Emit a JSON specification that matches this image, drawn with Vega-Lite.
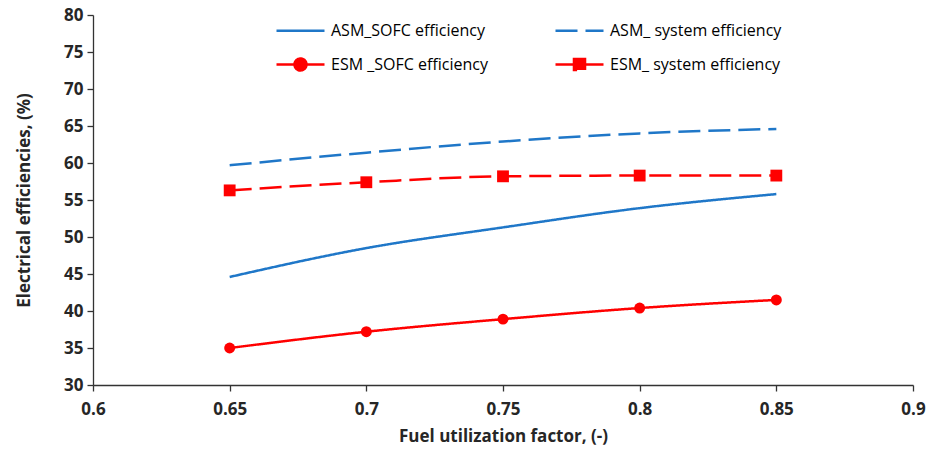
{
  "$schema": "https://vega.github.io/schema/vega-lite/v6.json",
  "width": 820,
  "height": 370,
  "autosize": {"type": "none"},
  "padding": {"left": 93, "top": 15, "right": 16, "bottom": 71},
  "background": "white",
  "config": {
    "view": {"stroke": null},
    "font": "Open Sans",
    "axis": {
      "grid": false,
      "domainColor": "#333333",
      "domainWidth": 1.3,
      "tickColor": "#333333",
      "tickWidth": 1.3,
      "tickSize": 6,
      "labelFont": "Open Sans",
      "labelFontWeight": "bold",
      "labelFontSize": 17,
      "labelColor": "#262626",
      "titleFont": "Open Sans",
      "titleFontWeight": "bold",
      "titleFontSize": 17,
      "titleColor": "#262626"
    }
  },
  "data": {
    "values": [
      {"x": 0.65, "series": "ASM_SOFC efficiency", "value": 44.6},
      {"x": 0.70, "series": "ASM_SOFC efficiency", "value": 48.5},
      {"x": 0.75, "series": "ASM_SOFC efficiency", "value": 51.3},
      {"x": 0.80, "series": "ASM_SOFC efficiency", "value": 53.9},
      {"x": 0.85, "series": "ASM_SOFC efficiency", "value": 55.8},
      {"x": 0.65, "series": "ASM_ system efficiency", "value": 59.7},
      {"x": 0.70, "series": "ASM_ system efficiency", "value": 61.4},
      {"x": 0.75, "series": "ASM_ system efficiency", "value": 62.9},
      {"x": 0.80, "series": "ASM_ system efficiency", "value": 64.0},
      {"x": 0.85, "series": "ASM_ system efficiency", "value": 64.6},
      {"x": 0.65, "series": "ESM _SOFC efficiency", "value": 35.0},
      {"x": 0.70, "series": "ESM _SOFC efficiency", "value": 37.2},
      {"x": 0.75, "series": "ESM _SOFC efficiency", "value": 38.9},
      {"x": 0.80, "series": "ESM _SOFC efficiency", "value": 40.4},
      {"x": 0.85, "series": "ESM _SOFC efficiency", "value": 41.5},
      {"x": 0.65, "series": "ESM_ system efficiency", "value": 56.3},
      {"x": 0.70, "series": "ESM_ system efficiency", "value": 57.4},
      {"x": 0.75, "series": "ESM_ system efficiency", "value": 58.2},
      {"x": 0.80, "series": "ESM_ system efficiency", "value": 58.3},
      {"x": 0.85, "series": "ESM_ system efficiency", "value": 58.3}
    ]
  },
  "encoding": {
    "x": {
      "field": "x",
      "type": "quantitative",
      "scale": {"domain": [0.6, 0.9], "nice": false, "zero": false},
      "axis": {
        "title": "Fuel utilization factor, (-)",
        "values": [0.6, 0.65, 0.7, 0.75, 0.8, 0.85, 0.9],
        "labelExpr": "datum.value",
        "labelPadding": 10,
        "titlePadding": 11,
        "labelFlush": false
      }
    },
    "y": {
      "field": "value",
      "type": "quantitative",
      "scale": {"domain": [30, 80], "nice": false, "zero": false},
      "axis": {
        "title": "Electrical efficiencies, (%)",
        "values": [30, 35, 40, 45, 50, 55, 60, 65, 70, 75, 80],
        "labelPadding": 4,
        "titlePadding": 30
      }
    }
  },
  "layer": [
    {
      "mark": {"type": "line", "strokeWidth": 2.5, "interpolate": "monotone"},
      "encoding": {
        "color": {
          "field": "series",
          "type": "nominal",
          "scale": {
            "domain": ["ASM_SOFC efficiency", "ESM _SOFC efficiency", "ASM_ system efficiency", "ESM_ system efficiency"],
            "range": ["#1F77C8", "#FF0000", "#1F77C8", "#FF0000"]
          },
          "legend": {
            "title": null,
            "orient": "none",
            "legendX": 182,
            "legendY": -10,
            "columns": 2,
            "columnPadding": 62,
            "rowPadding": -7,
            "symbolSize": 2304,
            "symbolStrokeWidth": 2.5,
            "labelFont": "Open Sans",
            "labelFontSize": 16,
            "labelLimit": 400,
            "labelColor": "#000000",
            "labelOffset": 5,
            "symbolType": "stroke",
            "encode": {
              "symbols": {
                "update": {
                  "shape": {"signal": "datum.value === 'ESM _SOFC efficiency' ? 'M-1,0L1,0M-0.25,0A0.25,0.25,0,1,1,0.25,0A0.25,0.25,0,1,1,-0.25,0Z' : datum.value === 'ESM_ system efficiency' ? 'M-1,0L1,0M-0.23,-0.23L0.23,-0.23L0.23,0.23L-0.23,0.23Z' : 'stroke'"},
                  "fill": {"signal": "indexof(datum.value, 'ESM') === 0 ? '#FF0000' : 'transparent'"}
                }
              }
            }
          }
        },
        "strokeDash": {
          "field": "series",
          "type": "nominal",
          "scale": {
            "domain": ["ASM_SOFC efficiency", "ESM _SOFC efficiency", "ASM_ system efficiency", "ESM_ system efficiency"],
            "range": [[1, 0], [1, 0], [22, 8], [22, 8]]
          }
        }
      }
    },
    {
      "transform": [{"filter": "indexof(datum.series, 'ESM') === 0"}],
      "mark": {"type": "point", "filled": true, "opacity": 1, "color": "#FF0000"},
      "encoding": {
        "shape": {
          "field": "series",
          "type": "nominal",
          "scale": {
            "domain": ["ESM _SOFC efficiency", "ESM_ system efficiency"],
            "range": ["circle", "square"]
          },
          "legend": null
        },
        "size": {
          "field": "series",
          "type": "nominal",
          "scale": {
            "domain": ["ESM _SOFC efficiency", "ESM_ system efficiency"],
            "range": [120, 140]
          },
          "legend": null
        }
      }
    }
  ]
}
